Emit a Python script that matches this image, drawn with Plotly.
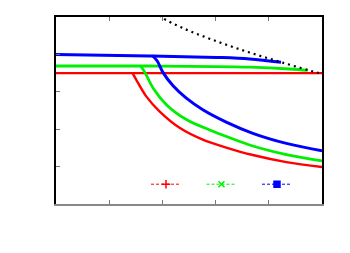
import plotly.graph_objects as go

# ---- data ----
red_flat_x = [0.0, 1.0, 2.0, 3.0, 4.0, 5.0]
red_flat_y = [3.50, 3.50, 3.50, 3.50, 3.50, 3.50]
red_branch_x = [1.44, 1.51, 1.70, 1.95, 2.33, 2.76, 3.20, 3.70, 4.33, 5.00]
red_branch_y = [3.50, 3.32, 2.87, 2.47, 2.03, 1.72, 1.51, 1.31, 1.12, 0.99]

green_flat_x = [0.0, 1.76, 3.64, 4.39, 4.73]
green_flat_y = [3.69, 3.69, 3.66, 3.61, 3.57]
green_branch_x = [1.59, 1.67, 1.83, 2.08, 2.45, 2.89, 3.23, 3.70, 4.33, 5.00]
green_branch_y = [3.69, 3.52, 3.09, 2.65, 2.26, 1.98, 1.79, 1.55, 1.32, 1.15]

blue_flat_x = [0.0, 1.76, 3.02, 3.64, 4.23]
blue_flat_y = [4.00, 3.96, 3.92, 3.88, 3.79]
blue_branch_x = [1.81, 1.90, 2.01, 2.20, 2.45, 2.76, 3.20, 3.70, 4.33, 5.00]
blue_branch_y = [3.97, 3.83, 3.52, 3.16, 2.83, 2.52, 2.19, 1.89, 1.62, 1.42]

black_x = [1.95, 2.01, 2.39, 3.02, 3.64, 4.26, 4.89, 4.95]
black_y = [5.05, 4.97, 4.70, 4.35, 4.05, 3.78, 3.52, 3.50]

series = [
    ("#ff0000", 2.4, red_flat_x, red_flat_y, red_branch_x, red_branch_y, "cross-thin-open"),
    ("#00ee00", 2.8, green_flat_x, green_flat_y, green_branch_x, green_branch_y, "x-thin-open"),
    ("#0000ff", 3.0, blue_flat_x, blue_flat_y, blue_branch_x, blue_branch_y, "square"),
]

fig = go.Figure()

for col, w, fx, fy, bx, by, sym in series:
    fig.add_trace(go.Scatter(x=fx, y=fy, mode="lines", line=dict(color=col, width=w, shape="spline"),
                             showlegend=False, hoverinfo="skip"))
    fig.add_trace(go.Scatter(x=bx, y=by, mode="lines",
                             line=dict(color=col, width=w, shape="spline", smoothing=1.0),
                             showlegend=False, hoverinfo="skip"))

fig.add_trace(go.Scatter(x=black_x, y=black_y, mode="lines",
                         line=dict(color="black", width=2.2, dash="2px,4px", shape="spline"),
                         showlegend=False, hoverinfo="skip"))

# legend samples (no data)
for col, w, fx, fy, bx, by, sym in series:
    fig.add_trace(go.Scatter(x=[None], y=[None], name=" ", mode="lines+markers",
                             line=dict(color=col, width=1, dash="3px,2px"),
                             marker=dict(symbol=sym, size=6, color=col,
                                         line=dict(color=col, width=1.5))))

axis_common = dict(showgrid=False, zeroline=False, showticklabels=False,
                   ticks="inside", ticklen=4, tickcolor="#777", tickwidth=1)

fig.update_layout(
    width=350, height=253,
    margin=dict(l=56, r=28, t=17, b=49, autoexpand=False),
    paper_bgcolor="white", plot_bgcolor="white",
    xaxis=dict(range=[0, 5], dtick=1, tick0=0, showline=True, linecolor="#888", linewidth=2,
               **axis_common),
    xaxis2=dict(range=[0, 5], dtick=1, tick0=0, overlaying="x", side="top", matches="x",
                showline=True, linecolor="black", linewidth=1.5, **axis_common),
    yaxis=dict(range=[0, 5], dtick=1, tick0=0, showline=True, linecolor="black", linewidth=1.5,
               mirror=True, **axis_common),
    legend=dict(orientation="h", x=(146 - 56) / 266, y=(203.5 - 183.7) / 187, xanchor="left",
                yanchor="middle", bgcolor="rgba(0,0,0,0)", entrywidth=10.5, entrywidthmode="pixels",
                itemwidth=30, font=dict(size=10)),
    showlegend=True,
)
fig.add_trace(go.Scatter(x=[None], y=[None], xaxis="x2", showlegend=False, hoverinfo="skip"))

fig.write_html("out.html", config={"displayModeBar": False},
               post_script="document.body.style.margin='0';document.body.style.padding='0';")
